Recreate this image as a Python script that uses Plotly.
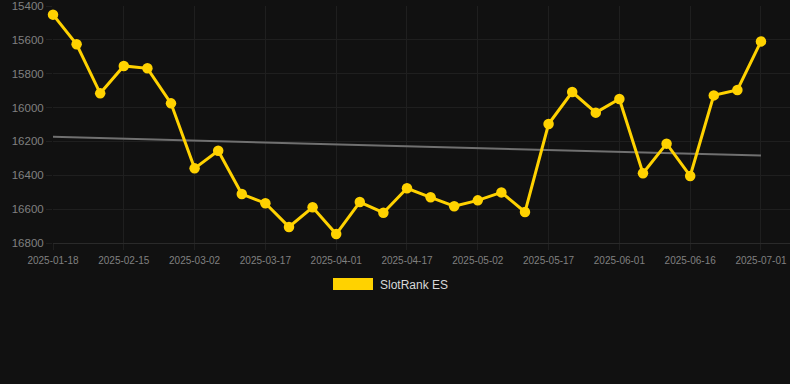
import numpy as np
import plotly.graph_objects as go

dates = [
    "2025-01-18", "2025-02-05", "2025-02-10", "2025-02-15", "2025-02-20",
    "2025-02-25", "2025-03-02", "2025-03-07", "2025-03-12", "2025-03-17",
    "2025-03-22", "2025-03-27", "2025-04-01", "2025-04-06", "2025-04-11",
    "2025-04-17", "2025-04-22", "2025-04-27", "2025-05-02", "2025-05-07",
    "2025-05-12", "2025-05-17", "2025-05-22", "2025-05-27", "2025-06-01",
    "2025-06-06", "2025-06-11", "2025-06-16", "2025-06-21", "2025-06-26",
    "2025-07-01",
]
rank_es = [
    15451, 15626, 15916, 15754, 15768, 15975, 16359, 16255, 16511, 16565,
    16705, 16589, 16747, 16558, 16621, 16477, 16530, 16583, 16548, 16501,
    16617, 16097, 15908, 16030, 15949, 16388, 16213, 16404, 15928, 15896,
    15609,
]
y_ticks = [15400, 15600, 15800, 16000, 16200, 16400, 16600, 16800]
y_tick_text = [str(v) for v in y_ticks]
x_ticks = dates[::3]
series_name = "SlotRank ES"

# linear trend from the data
idx = np.arange(len(rank_es))
slope, intercept = np.polyfit(idx, rank_es, 1)
trend = [intercept, intercept + slope * idx[-1]]

BG = "#111111"
GRID = "#1f1f1f"
TXT = "#808080"
GOLD = "#FFD200"

fig = go.Figure()
fig.add_trace(go.Scatter(
    x=[dates[0], dates[-1]], y=trend, mode="lines",
    line=dict(color="#707070", width=2), hoverinfo="skip", showlegend=False,
    cliponaxis=False,
))
fig.add_trace(go.Scatter(
    x=dates, y=rank_es, mode="lines+markers", name=series_name,
    line=dict(color=GOLD, width=3),
    marker=dict(color=GOLD, size=10.5),
    showlegend=False, cliponaxis=False,
))

fig.update_layout(
    width=790, height=384,
    margin=dict(l=53, r=0, t=6, b=141),
    paper_bgcolor=BG, plot_bgcolor=BG,
    font=dict(family="Arial, Liberation Sans, sans-serif", color=TXT),
    showlegend=False,
)
fig.update_xaxes(
    type="category", categoryorder="array", categoryarray=dates,
    range=[0, 31.23],
    tickmode="array", tickvals=x_ticks, ticktext=x_ticks,
    showgrid=True, gridcolor=GRID, gridwidth=1,
    ticks="outside", ticklen=6, tickcolor=GRID,
    ticklabelstandoff=2,
    tickfont=dict(size=10, color=TXT),
    showline=True, linecolor="#2a2a2a", linewidth=1, zeroline=False,
)
fig.update_yaxes(
    range=[16800, 15400],
    tickmode="array", tickvals=y_ticks, ticktext=y_tick_text,
    showgrid=True, gridcolor=GRID, gridwidth=1,
    ticks="outside", ticklen=6, tickcolor=GRID,
    tickfont=dict(size=11.5, color=TXT),
    showline=False, zeroline=False,
)

# legend (box + label) below the plot
fig.add_shape(type="rect", xref="paper", yref="paper",
              x0=(333 - 53) / 737, x1=(373 - 53) / 737,
              y0=(243 - 290) / 237, y1=(243 - 278) / 237,
              fillcolor=GOLD, line=dict(width=0))
fig.add_annotation(xref="paper", yref="paper",
                   x=(378 - 53) / 737, y=(243 - 284.5) / 237,
                   xanchor="left", yanchor="middle", showarrow=False,
                   text=series_name, font=dict(size=12, color="#d8d8d8"))

fig.write_html("out.html")
